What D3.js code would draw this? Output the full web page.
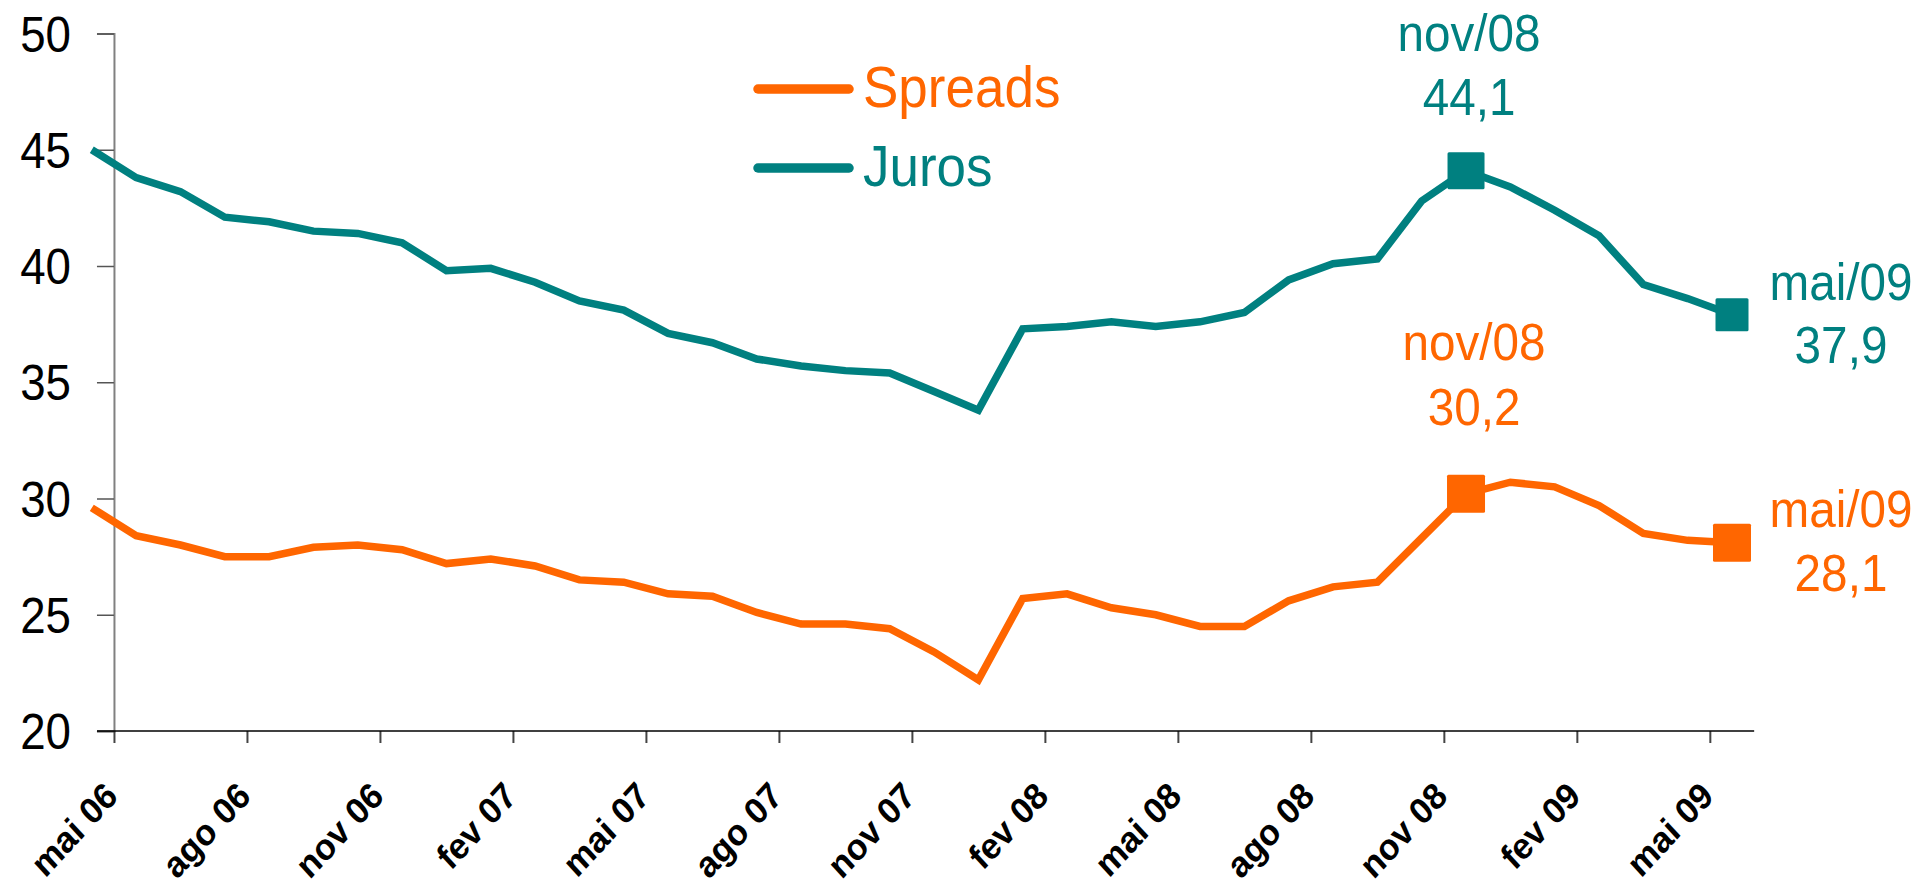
<!DOCTYPE html>
<html>
<head>
<meta charset="utf-8">
<script src="https://cdn.jsdelivr.net/npm/d3@7"></script>
<style>
  html, body { margin: 0; padding: 0; background: #fff; }
  svg { display: block; font-family: 'Liberation Sans', Arial, sans-serif; }
</style>
</head>
<body>
<svg id="chart" width="1918" height="886"></svg>
<script>
'use strict';

// categorias mensais (abr 06 .. mai 09)
var months = ['abr 06','mai 06','jun 06','jul 06','ago 06','set 06','out 06','nov 06','dez 06',
  'jan 07','fev 07','mar 07','abr 07','mai 07','jun 07','jul 07','ago 07','set 07','out 07','nov 07','dez 07',
  'jan 08','fev 08','mar 08','abr 08','mai 08','jun 08','jul 08','ago 08','set 08','out 08','nov 08','dez 08',
  'jan 09','fev 09','mar 09','abr 09','mai 09'];

var juros = [45.0, 43.8, 43.2, 42.1, 41.9, 41.5, 41.4, 41.0, 39.8, 39.9, 39.3, 38.5, 38.1,
  37.1, 36.7, 36.0, 35.7, 35.5, 35.4, 34.6, 33.8, 37.3, 37.4, 37.6, 37.4, 37.6, 38.0,
  39.4, 40.1, 40.3, 42.8, 44.1, 43.4, 42.4, 41.3, 39.2, 38.6, 37.9];

var spreads = [29.6, 28.4, 28.0, 27.5, 27.5, 27.9, 28.0, 27.8, 27.2, 27.4, 27.1, 26.5, 26.4,
  25.9, 25.8, 25.1, 24.6, 24.6, 24.4, 23.4, 22.2, 25.7, 25.9, 25.3, 25.0, 24.5, 24.5,
  25.6, 26.2, 26.4, 28.3, 30.2, 30.7, 30.5, 29.7, 28.5, 28.2, 28.1];

var xTickLabels = ['mai 06','ago 06','nov 06','fev 07','mai 07','ago 07','nov 07',
  'fev 08','mai 08','ago 08','nov 08','fev 09','mai 09'];
var yTicks = [20, 25, 30, 35, 40, 45, 50];

var seriesNames = ['Spreads', 'Juros'];

// pontos destacados: serie, mes, texto
var highlights = [
  { serie: 'Juros', mes: 'nov 08', label: 'nov/08', valor: '44,1' },
  { serie: 'Juros', mes: 'mai 09', label: 'mai/09', valor: '37,9' },
  { serie: 'Spreads', mes: 'nov 08', label: 'nov/08', valor: '30,2' },
  { serie: 'Spreads', mes: 'mai 09', label: 'mai/09', valor: '28,1' }
];

// ---- estilos / layout ----
var colors = { Spreads: '#FF6600', Juros: '#008080' };
var dataBySerie = { Spreads: spreads, Juros: juros };
var markerSize = { 'Juros|nov 08': 37, 'Juros|mai 09': 33, 'Spreads|nov 08': 38, 'Spreads|mai 09': 38 };
var labelOffset = {
  'Juros|nov 08': { dx: 3, dy: [-120, -56] },
  'Juros|mai 09': { dx: 109, dy: [-15, 48] },
  'Spreads|nov 08': { dx: 8, dy: [-134, -69] },
  'Spreads|mai 09': { dx: 109, dy: [-16, 48] }
};
// texto um pouco estreito (fonte "narrow" do original)
var squeeze = 0.92;
var fontUp = 1.08;

var svg = d3.select('#chart');

var x = d3.scaleLinear()
  .domain([0, months.length - 1])
  .range([91.8, 1732]);

var y = d3.scaleLinear()
  .domain([20, 50])
  .range([731, 33.5]);

var yTickLen = 17;

function narrowText(sel, px, py, size, extra) {
  sel.attr('x', 0).attr('y', 0)
    .attr('font-size', size * fontUp)
    .attr('transform', 'translate(' + px + ',' + py + ') scale(' + squeeze + ',1)' + (extra || ''));
}

// eixo Y
var yAxis = d3.axisLeft(y)
  .tickValues(yTicks)
  .tickSize(yTickLen)
  .tickFormat(function(d){ return d; });

var gy = svg.append('g')
  .attr('transform', 'translate(' + x(0.5) + ',0)')
  .call(yAxis);
gy.select('.domain').attr('stroke', '#808080').attr('stroke-width', 2);
gy.selectAll('.tick line').attr('stroke', '#555').attr('stroke-width', 1.5);
gy.selectAll('.tick text')
  .attr('fill', '#000')
  .attr('font-family', "'Liberation Sans', Arial, sans-serif")
  .attr('dy', null)
  .call(narrowText, -43, 17.5, 46);

// eixo X (marcas entre as categorias)
var xTickIdx = xTickLabels.map(function(l){ return months.indexOf(l) - 0.5; });

var xAxis = d3.axisBottom(x)
  .tickValues(xTickIdx)
  .tickSize(12)
  .tickSizeOuter(0)
  .tickFormat(function(d){ return months[d + 0.5]; });

var gx = svg.append('g')
  .attr('transform', 'translate(0,' + y(20) + ')')
  .call(xAxis);
gx.select('.domain').remove();
gx.append('line')
  .attr('x1', x(0.5) - yTickLen)
  .attr('x2', x(months.length - 0.5))
  .attr('stroke', '#000')
  .attr('stroke-width', 1.5);
gx.selectAll('.tick line').attr('stroke', '#444').attr('stroke-width', 2);
gx.selectAll('.tick text')
  .attr('fill', '#000')
  .attr('font-weight', 'bold')
  .attr('font-family', "'Liberation Sans', Arial, sans-serif")
  .attr('text-anchor', 'end')
  .attr('dy', null)
  .call(narrowText, 5, 67, 34, ' rotate(-45)');

// linhas
var line = d3.line()
  .x(function(d, i){ return x(i); })
  .y(function(d){ return y(d); });

seriesNames.forEach(function(name){
  svg.append('path')
    .datum(dataBySerie[name])
    .attr('fill', 'none')
    .attr('stroke', colors[name])
    .attr('stroke-width', 7.5)
    .attr('stroke-linejoin', 'miter')
    .attr('d', line);
});

// marcadores e rotulos
highlights.forEach(function(h){
  var key = h.serie + '|' + h.mes;
  var i = months.indexOf(h.mes);
  var v = dataBySerie[h.serie][i];
  var cx = x(i), cy = y(v);
  var s = markerSize[key];
  var off = labelOffset[key];

  svg.append('rect')
    .attr('x', cx - s / 2)
    .attr('y', cy - s / 2)
    .attr('width', s)
    .attr('height', s)
    .attr('rx', 1.5)
    .attr('fill', colors[h.serie]);

  [h.label, h.valor].forEach(function(t, k){
    svg.append('text')
      .attr('text-anchor', 'middle')
      .attr('fill', colors[h.serie])
      .text(t)
      .call(narrowText, cx + off.dx, cy + off.dy[k], 48);
  });
});

// legenda
var legend = svg.append('g').attr('transform', 'translate(758,89)');
seriesNames.forEach(function(name, k){
  var g = legend.append('g').attr('transform', 'translate(0,' + (k * 79) + ')');
  g.append('line')
    .attr('x1', 0).attr('x2', 91)
    .attr('stroke', colors[name])
    .attr('stroke-width', 9.5)
    .attr('stroke-linecap', 'round');
  g.append('text')
    .attr('fill', colors[name])
    .text(name)
    .call(narrowText, 105, 17.5, 53 / squeeze / fontUp);
});
</script>
</body>
</html>
